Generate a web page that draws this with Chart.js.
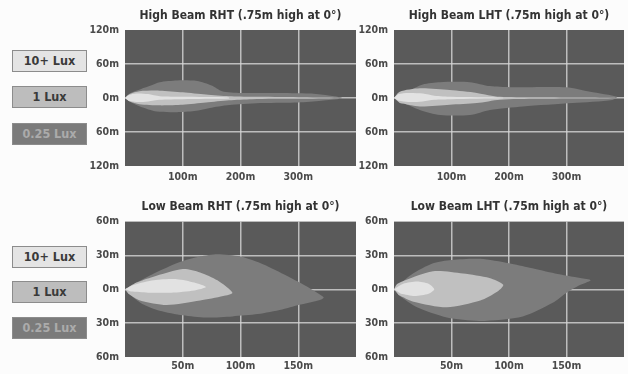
<!DOCTYPE html>
<html>
<head>
<meta charset="utf-8">
<script src="https://cdn.jsdelivr.net/npm/chart.js@4/dist/chart.umd.min.js"></script>
<style>
  body { margin: 0; background: #fcfcfc; }
  #page { position: relative; width: 628px; height: 374px; overflow: hidden;
          font-family: "Liberation Sans Narrow", "DejaVu Sans Condensed", "Liberation Sans", sans-serif; }
  canvas { position: absolute; }
  .lux { position: absolute; left: 12px; width: 73px; height: 20px; line-height: 20px;
         border: 1px solid #8c8c8c; text-align: center; font-weight: bold; font-size: 12.5px; color: #3a3a3a; }
  .l10 { background: #e4e4e4; }
  .l1 { background: #bdbdbd; }
  .l025 { background: #7b7b7b; color: #ababab; }
</style>
</head>
<body>
<div id="page">
  <div class="lux l10" style="top:50px">10+ Lux</div>
  <div class="lux l1" style="top:86px">1 Lux</div>
  <div class="lux l025" style="top:123px">0.25 Lux</div>
  <div class="lux l10" style="top:246px">10+ Lux</div>
  <div class="lux l1" style="top:281px">1 Lux</div>
  <div class="lux l025" style="top:317px">0.25 Lux</div>

  <canvas id="highRht" width="271" height="186" style="left:85px;top:0px"></canvas>
  <canvas id="highLht" width="270" height="186" style="left:354px;top:0px"></canvas>
  <canvas id="lowRht" width="271" height="184" style="left:85px;top:190px"></canvas>
  <canvas id="lowLht" width="270" height="184" style="left:354px;top:190px"></canvas>
</div>
<script>
// axis ticks
const highXTicks = [100, 200, 300];
const lowXTicks = [50, 100, 150];
const highYTicks = [-120, -60, 0, 60, 120];
const lowYTicks = [-60, -30, 0, 30, 60];
const luxLabels = ['10+ Lux', '1 Lux', '0.25 Lux'];

// beam outlines [distance, lateral] - upper edge out, lower edge back
const highRht10 = [[0,0],[6,5],[20,8],[40,7],[60,3],[100,2],[180,1],[180,-1],[100,-2],[60,-3],[40,-6],[20,-7],[6,-5]];
const highRht1 = [[0,0],[8,7],[25,12],[60,13],[100,10],[140,6],[180,3],[220,2],[300,1.5],[370,0.5],
                  [370,-0.5],[300,-1.5],[220,-2],[180,-4],[140,-8],[100,-12],[60,-13],[25,-11],[8,-6]];
const highRht025 = [[0,0],[8,8],[28,16],[45,22],[60,28],[90,31],[125,30],[150,22],[168,12],[200,9],[260,9],[320,8],[350,5],[375,1],
                    [375,-1],[340,-5],[300,-8],[240,-9],[185,-12],[150,-17],[120,-23],[90,-25],[55,-24],[26,-15],[8,-6]];

const highLht10 = [[0,0],[8,7],[25,9],[50,8],[70,4],[100,2],[190,0.5],[190,-0.5],[100,-2],[70,-3],[50,-6],[25,-7],[8,-5]];
const highLht1 = [[0,0],[10,11],[45,17],[97,14],[144,9],[184,2],[250,1.5],[330,1],[385,0.3],
                  [385,-0.3],[330,-1],[250,-1.5],[184,-3],[144,-9],[97,-12],[45,-15],[10,-9]];
const highLht025 = [[0,0],[10,8],[28,14],[50,24],[80,28],[132,28],[167,21],[202,19],[300,19],[341,11],[388,2],
                    [380,-3.5],[311,-9],[224,-15],[167,-21],[132,-30],[80,-30],[45,-21],[16,-9]];

const lowRht10 = [[0,0],[8,4],[25,8],[45,9],[60,6],[70,2],[60,-1],[40,-3],[20,-3],[5,-2]];
const lowRht1 = [[0,0],[10,6],[24,11],[50,18],[65,15],[80,8],[93,-3],[85,-6],[65,-10],[36,-14],[13,-10],[3,-4]];
const lowRht025 = [[0,0],[10,6],[25,14],[47,24],[65,29],[80,31],[100,29],[120,22],[140,12],[160,1],[172,-7],
                   [170,-9],[150,-14],[136,-18],[115,-22],[93,-24],[70,-25],[50,-23],[30,-19],[15,-13],[3,-4]];

const lowLht10 = [[0,0],[8,5],[20,7],[30,5],[35,0],[30,-4],[18,-6],[6,-4]];
const lowLht1 = [[0,0],[3,5],[34,16],[60,14],[83,10],[95,4],[90,-2],[75,-10],[46,-16],[17,-11],[4,-5]];
const lowLht025 = [[0,0],[15,13],[34,23],[50,26],[75,27],[100,23],[118,19],[140,14],[162,10],[171,8],
                   [160,3],[150,-3],[138,-12],[112,-24],[75,-28],[46,-25],[20,-16],[5,-6]];

const luxColors = ['#e2e2e2', '#c0c0c0', '#7c7c7c'];
const fontFamily = '"Liberation Sans Narrow", "DejaVu Sans Condensed", "Liberation Sans", sans-serif';

const plotBg = {
  id: 'plotBg',
  beforeDraw(chart) {
    const { ctx, chartArea: a } = chart;
    ctx.save();
    ctx.fillStyle = '#5a5a5a';
    ctx.fillRect(a.left, a.top, a.right - a.left, a.bottom - a.top);
    ctx.restore();
  }
};

function beamChart(id, title, beams, xTicks, xMax, yTicks, titlePad, xAxisHeight, xTickPad) {
  const yMax = yTicks[yTicks.length - 1];
  new Chart(document.getElementById(id), {
    type: 'scatter',
    data: {
      datasets: beams.map((pts, i) => ({
        label: luxLabels[i],
        data: pts.map(p => ({ x: p[0], y: p[1] })),
        showLine: true,
        fill: 'shape',
        backgroundColor: luxColors[i],
        borderWidth: 0,
        pointRadius: 0,
        tension: 0.25
      }))
    },
    options: {
      responsive: false,
      animation: false,
      events: [],
      layout: { padding: 0 },
      plugins: {
        legend: { display: false },
        tooltip: { enabled: false },
        title: {
          display: true, text: title, fullSize: false, color: '#333',
          font: { family: fontFamily, size: 12, weight: 'bold' },
          padding: titlePad
        }
      },
      scales: {
        x: {
          type: 'linear', min: 0, max: xMax, z: 1,
          afterBuildTicks: s => { s.ticks = xTicks.map(v => ({ value: v })); },
          afterFit: s => { s.height = xAxisHeight; },
          ticks: { callback: v => v + 'm', color: '#4a4a4a', padding: xTickPad, maxRotation: 0,
                   font: { family: fontFamily, size: 10.5, weight: 'bold' } },
          grid: { color: 'rgba(214,214,214,0.8)', lineWidth: 1.5, drawTicks: false },
          border: { display: false }
        },
        y: {
          type: 'linear', min: -yMax, max: yMax, z: 1,
          afterBuildTicks: s => { s.ticks = yTicks.map(v => ({ value: v })); },
          afterFit: s => { s.width = 40; },
          ticks: { callback: v => Math.abs(v) + 'm', color: '#4a4a4a', padding: 6,
                   font: { family: fontFamily, size: 10.5, weight: 'bold' } },
          grid: { color: c => Math.abs(c.tick.value) === yMax ? 'rgba(0,0,0,0)' : 'rgba(214,214,214,0.8)',
                  lineWidth: 1.5, drawTicks: false },
          border: { display: false }
        }
      }
    },
    plugins: [plotBg]
  });
}

const highTitlePad = { top: 9, bottom: 6.6 };
const lowTitlePad = { top: 10, bottom: 7.2 };

beamChart('highRht', 'High Beam RHT (.75m high at 0°)', [highRht10, highRht1, highRht025],
          highXTicks, 400, highYTicks, highTitlePad, 20, 5);
beamChart('highLht', 'High Beam LHT (.75m high at 0°)', [highLht10, highLht1, highLht025],
          highXTicks, 400, highYTicks, highTitlePad, 20, 5);
beamChart('lowRht', 'Low Beam RHT (.75m high at 0°)', [lowRht10, lowRht1, lowRht025],
          lowXTicks, 200, lowYTicks, lowTitlePad, 17, 3);
beamChart('lowLht', 'Low Beam LHT (.75m high at 0°)', [lowLht10, lowLht1, lowLht025],
          lowXTicks, 200, lowYTicks, lowTitlePad, 17, 3);
</script>
</body>
</html>
